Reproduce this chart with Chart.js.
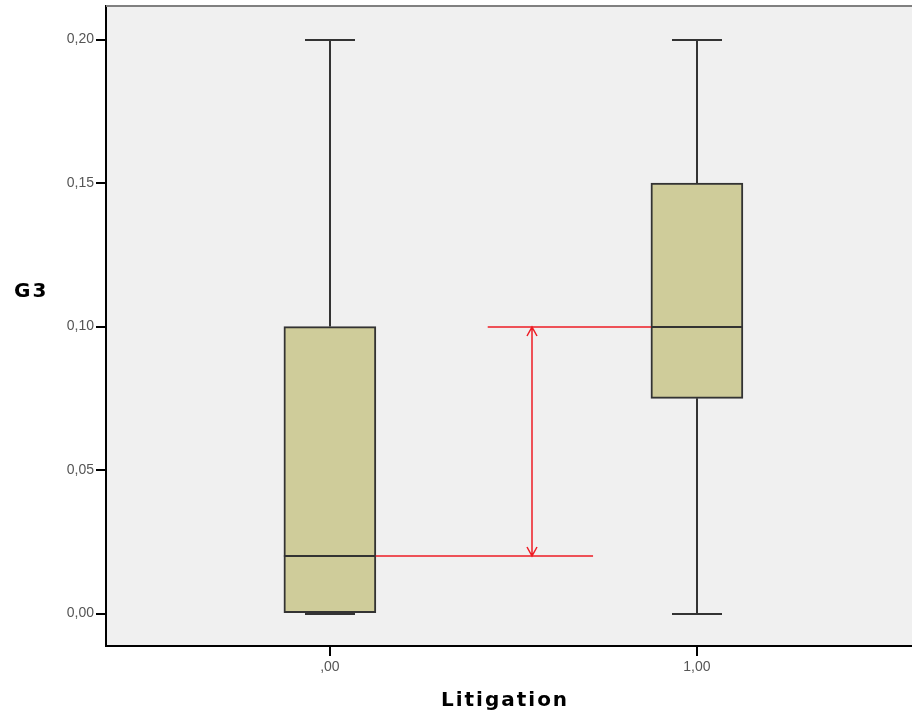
<!DOCTYPE html>
<html>
<head>
<meta charset="utf-8">
<script src="https://cdn.jsdelivr.net/npm/chart.js@4.4.1/dist/chart.umd.min.js"></script>
<style>
  html, body { margin: 0; padding: 0; background: #fff; overflow: hidden; }
  #wrap { width: 912px; height: 714px; position: relative; }
</style>
</head>
<body>
<div id="wrap"><canvas id="chart"></canvas></div>
<script>
'use strict';

// Categories (Litigation) and their positions on the x axis
const categories  = [',00', '1,00'];
const groupX      = [0, 1];

// Box plot statistics for G3
const whiskerLow  = [0.00, 0.00];
const quartile1   = [0.00, 0.075];
const medians     = [0.02, 0.10];
const quartile3   = [0.10, 0.15];
const whiskerHigh = [0.20, 0.20];

// Y tick values and labels
const yTicks      = [0.00, 0.05, 0.10, 0.15, 0.20];
const yTickLabels = ['0,00', '0,05', '0,10', '0,15', '0,20'];

// Red annotation: median guide lines and the double arrow between them
const guideY      = [0.02, 0.10];
const guideFromX  = [0.125, 0.43];
const guideToX    = [0.717, 0.875];
const arrowX      = 0.55;

const COLORS = {
  plotBg:  '#f0f0f0',
  boxFill: '#cfcc9a',
  boxLine: '#333333',
  axis:    '#000000',
  top:     '#808080',
  tick:    '#555555',
  red:     '#ee1c24',
};

const TITLE_FONT = 'bold 20px "DejaVu Sans", "Liberation Sans", sans-serif';

/** Draws background, whiskers, medians, annotation and axis titles. */
const boxPlotPlugin = {
  id: 'boxPlot',
  beforeDraw(chart) {
    const { ctx, chartArea: a } = chart;
    ctx.save();
    ctx.fillStyle = COLORS.plotBg;
    ctx.fillRect(a.left, a.top, a.right - a.left, a.bottom - a.top);
    ctx.restore();
  },
  beforeDatasetsDraw(chart) {
    const { ctx } = chart;
    const xs = chart.scales.x;
    const ys = chart.scales.y;
    ctx.save();
    ctx.strokeStyle = COLORS.boxLine;
    ctx.lineWidth = 2;
    groupX.forEach((gx, i) => {
      const px = Math.round(xs.getPixelForValue(gx));
      const capHalf = 25;
      const hi = Math.round(ys.getPixelForValue(whiskerHigh[i]));
      const lo = Math.round(ys.getPixelForValue(whiskerLow[i]));
      ctx.beginPath();
      ctx.moveTo(px, ys.getPixelForValue(quartile3[i]));
      ctx.lineTo(px, hi);
      ctx.moveTo(px, ys.getPixelForValue(quartile1[i]));
      ctx.lineTo(px, lo);
      ctx.moveTo(px - capHalf, hi);
      ctx.lineTo(px + capHalf, hi);
      ctx.moveTo(px - capHalf, lo);
      ctx.lineTo(px + capHalf, lo);
      ctx.stroke();
    });
    ctx.restore();
  },
  afterDatasetsDraw(chart) {
    const { ctx } = chart;
    const xs = chart.scales.x;
    const ys = chart.scales.y;
    ctx.save();
    // medians
    ctx.strokeStyle = COLORS.boxLine;
    ctx.lineWidth = 2;
    groupX.forEach((gx, i) => {
      const px = xs.getPixelForValue(gx);
      const py = Math.round(ys.getPixelForValue(medians[i]));
      ctx.beginPath();
      ctx.moveTo(px - 46, py);
      ctx.lineTo(px + 46, py);
      ctx.stroke();
    });

    // red guides
    ctx.strokeStyle = COLORS.red;
    ctx.lineWidth = 1.5;
    guideY.forEach((gy, i) => {
      const py = Math.round(ys.getPixelForValue(gy));
      ctx.beginPath();
      ctx.moveTo(xs.getPixelForValue(guideFromX[i]), py);
      ctx.lineTo(xs.getPixelForValue(guideToX[i]), py);
      ctx.stroke();
    });
    const ax = Math.round(xs.getPixelForValue(arrowX));
    const yTop = Math.round(ys.getPixelForValue(Math.max(...guideY)));
    const yBot = Math.round(ys.getPixelForValue(Math.min(...guideY)));
    ctx.beginPath();
    ctx.moveTo(ax, yTop);
    ctx.lineTo(ax, yBot);
    ctx.moveTo(ax - 5, yTop + 9);
    ctx.lineTo(ax, yTop);
    ctx.lineTo(ax + 5, yTop + 9);
    ctx.moveTo(ax - 5, yBot - 9);
    ctx.lineTo(ax, yBot);
    ctx.lineTo(ax + 5, yBot - 9);
    ctx.stroke();

    // top border of the plot
    const a = chart.chartArea;
    ctx.strokeStyle = COLORS.top;
    ctx.lineWidth = 2;
    ctx.beginPath();
    ctx.moveTo(a.left, a.top);
    ctx.lineTo(a.right, a.top);
    ctx.stroke();

    // axis titles (letter-spaced, y title horizontal)
    ctx.fillStyle = '#000';
    ctx.font = TITLE_FONT;
    ctx.textBaseline = 'alphabetic';
    if ('letterSpacing' in ctx) ctx.letterSpacing = '2px';
    ctx.textAlign = 'left';
    ctx.fillText('G3', 14, 297);
    ctx.textAlign = 'center';
    ctx.fillText('Litigation', 505, 706);
    ctx.restore();
  },
};

const tickFont = { family: '"Liberation Sans", Arial, sans-serif', size: 14 };

new Chart(document.getElementById('chart'), {
  type: 'bar',
  data: {
    datasets: [{
      label: 'G3',
      data: groupX.map((gx, i) => ({ x: gx, y: [quartile1[i], quartile3[i]] })),
      backgroundColor: COLORS.boxFill,
      borderColor: COLORS.boxLine,
      borderWidth: 2,
      borderSkipped: false,
      barThickness: 92,
    }],
  },
  options: {
    responsive: true,
    maintainAspectRatio: false,
    animation: false,
    layout: { padding: { top: 6, left: 0, right: 0, bottom: 0 } },
    plugins: {
      legend: { display: false },
      tooltip: { enabled: false },
    },
    scales: {
      x: {
        type: 'linear',
        offset: false,
        min: -0.61,
        max: 1.586,
        afterBuildTicks: (s) => { s.ticks = groupX.map((v) => ({ value: v })); },
        afterFit: (s) => {
          s.height = 68;
          s.paddingLeft = 0;
          s.paddingRight = 0;
        },
        ticks: {
          autoSkip: false,
          maxRotation: 0,
          padding: 3,
          color: COLORS.tick,
          font: tickFont,
          callback: (v) => categories[groupX.indexOf(v)],
        },
        grid: {
          offset: false,
          drawOnChartArea: false,
          drawTicks: true,
          tickLength: 10,
          color: COLORS.axis,
          lineWidth: 2,
        },
        border: { color: COLORS.axis, width: 2 },
      },
      y: {
        type: 'linear',
        min: -0.0113,
        max: 0.2117,
        afterBuildTicks: (s) => { s.ticks = yTicks.map((v) => ({ value: v })); },
        afterFit: (s) => {
          s.width = 106;
          s.paddingTop = 0;
          s.paddingBottom = 0;
        },
        ticks: {
          padding: 2,
          color: COLORS.tick,
          font: tickFont,
          callback: (v) => yTickLabels[yTicks.findIndex((t) => Math.abs(t - v) < 1e-9)],
        },
        grid: {
          drawOnChartArea: false,
          drawTicks: true,
          tickLength: 10,
          color: COLORS.axis,
          lineWidth: 2,
        },
        border: { color: COLORS.axis, width: 2 },
      },
    },
  },
  plugins: [boxPlotPlugin],
});
</script>
</body>
</html>
